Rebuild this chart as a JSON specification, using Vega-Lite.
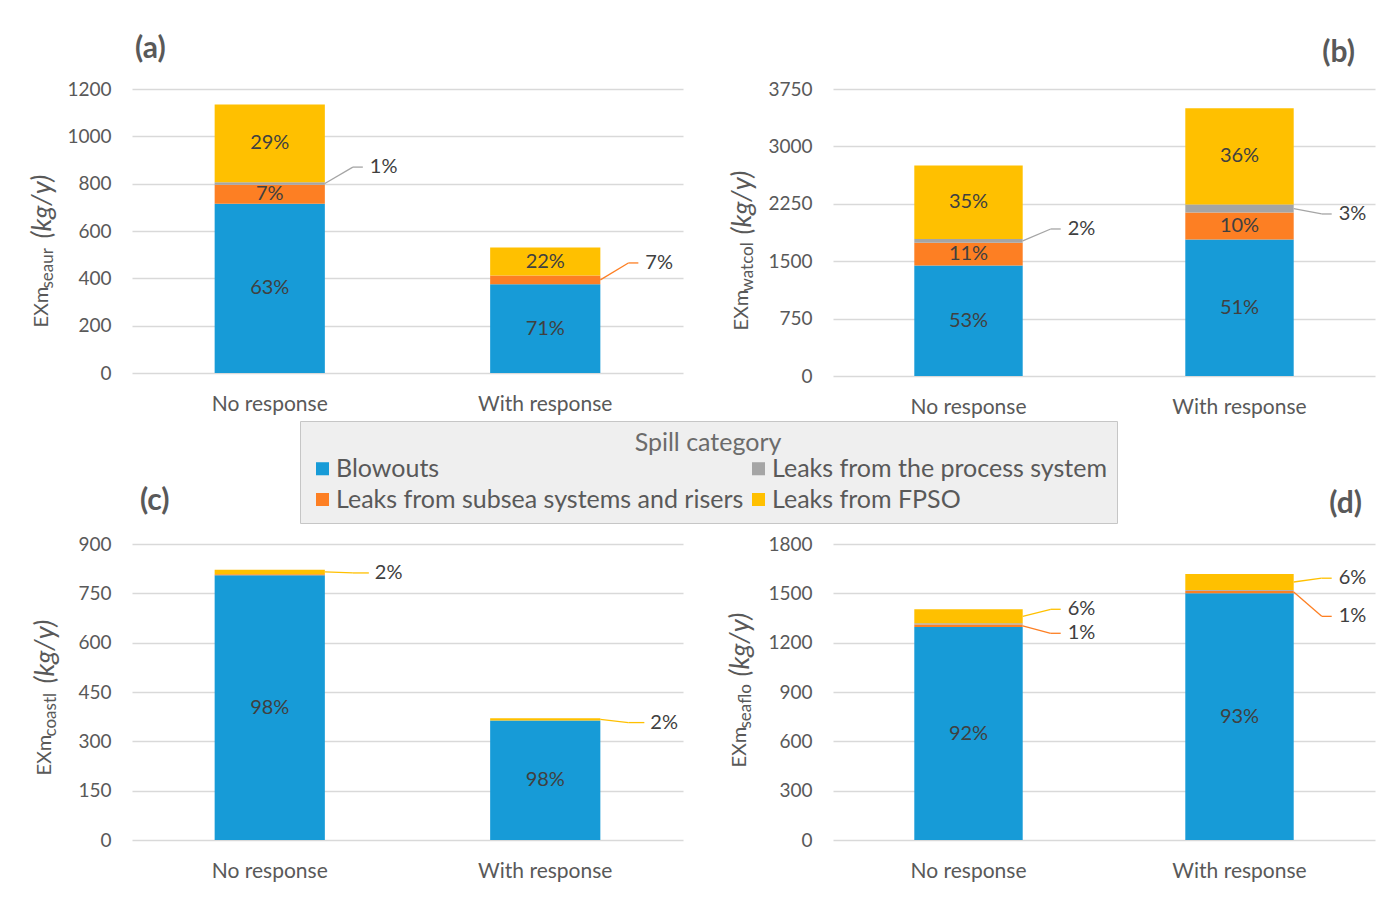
{
  "$schema": "https://vega.github.io/schema/vega-lite/v6.json",
  "background": "white",
  "padding": {"left": 28, "top": 34, "right": 4, "bottom": 4},
  "datasets": {
    "spills": [
      {"panel": "a", "scenario": "No response", "category": "Blowouts", "value": 715},
      {"panel": "a", "scenario": "No response", "category": "Leaks from subsea systems and risers", "value": 80},
      {"panel": "a", "scenario": "No response", "category": "Leaks from the process system", "value": 11, "calloutAt": 870},
      {"panel": "a", "scenario": "No response", "category": "Leaks from FPSO", "value": 329},
      {"panel": "a", "scenario": "With response", "category": "Blowouts", "value": 375},
      {"panel": "a", "scenario": "With response", "category": "Leaks from subsea systems and risers", "value": 37, "calloutAt": 465},
      {"panel": "a", "scenario": "With response", "category": "Leaks from FPSO", "value": 118},
      {"panel": "b", "scenario": "No response", "category": "Blowouts", "value": 1445},
      {"panel": "b", "scenario": "No response", "category": "Leaks from subsea systems and risers", "value": 295},
      {"panel": "b", "scenario": "No response", "category": "Leaks from the process system", "value": 50, "calloutAt": 1921},
      {"panel": "b", "scenario": "No response", "category": "Leaks from FPSO", "value": 960},
      {"panel": "b", "scenario": "With response", "category": "Blowouts", "value": 1785},
      {"panel": "b", "scenario": "With response", "category": "Leaks from subsea systems and risers", "value": 350},
      {"panel": "b", "scenario": "With response", "category": "Leaks from the process system", "value": 105, "calloutAt": 2117},
      {"panel": "b", "scenario": "With response", "category": "Leaks from FPSO", "value": 1260},
      {"panel": "c", "scenario": "No response", "category": "Blowouts", "value": 805},
      {"panel": "c", "scenario": "No response", "category": "Leaks from subsea systems and risers", "value": 3},
      {"panel": "c", "scenario": "No response", "category": "Leaks from FPSO", "value": 14, "calloutAt": 812},
      {"panel": "c", "scenario": "With response", "category": "Blowouts", "value": 363},
      {"panel": "c", "scenario": "With response", "category": "Leaks from FPSO", "value": 7, "calloutAt": 357},
      {"panel": "d", "scenario": "No response", "category": "Blowouts", "value": 1295},
      {"panel": "d", "scenario": "No response", "category": "Leaks from subsea systems and risers", "value": 15, "calloutAt": 1257},
      {"panel": "d", "scenario": "No response", "category": "Leaks from the process system", "value": 8},
      {"panel": "d", "scenario": "No response", "category": "Leaks from FPSO", "value": 85, "calloutAt": 1403},
      {"panel": "d", "scenario": "With response", "category": "Blowouts", "value": 1500},
      {"panel": "d", "scenario": "With response", "category": "Leaks from subsea systems and risers", "value": 16, "calloutAt": 1360},
      {"panel": "d", "scenario": "With response", "category": "Leaks from the process system", "value": 5},
      {"panel": "d", "scenario": "With response", "category": "Leaks from FPSO", "value": 96, "calloutAt": 1592}
    ]
  },
  "columns": 2,
  "bounds": "flush",
  "align": "each",
  "spacing": {"row": 168, "column": 150},
  "concat": [
    {
      "width": 551, "height": 284,
      "title": {"text": "(a)", "anchor": "start", "dx": 3, "offset": 16},
      "data": {"name": "spills"},
      "transform": [
        {"filter": "datum.panel === 'a'"},
        {"calculate": "indexof(['Blowouts', 'Leaks from subsea systems and risers', 'Leaks from the process system', 'Leaks from FPSO'], datum.category)", "as": "rank"},
        {"stack": "value", "groupby": ["scenario"], "sort": [{"field": "rank", "order": "ascending"}], "as": ["lo", "hi"]},
        {"calculate": "(datum.lo + datum.hi) / 2", "as": "mid"},
        {"joinaggregate": [{"op": "sum", "field": "value", "as": "total"}], "groupby": ["scenario"]},
        {"calculate": "format(datum.value / datum.total, '.0%')", "as": "pct"}
      ],
      "encoding": {
        "x": {"field": "scenario", "type": "nominal", "sort": ["No response", "With response"], "scale": {"paddingInner": 0.6, "paddingOuter": 0.3}, "axis": {"title": null, "labelAngle": 0, "labelPadding": 20}}
      },
      "layer": [
        {
          "mark": {"type": "bar"},
          "encoding": {
            "y": {"field": "hi", "type": "quantitative", "scale": {"domain": [0, 1200], "nice": false}, "axis": {"orient": "left", "values": [0, 200, 400, 600, 800, 1000, 1200], "format": "d", "title": "EXm", "titleX": -85, "titleY": 238}},
            "y2": {"field": "lo"},
            "color": {"field": "category", "type": "nominal", "scale": {"domain": ["Blowouts", "Leaks from subsea systems and risers", "Leaks from the process system", "Leaks from FPSO"], "range": ["#179bd7", "#fd7f23", "#a5a5a5", "#ffc000"]}, "legend": {"orient": "none", "legendX": 168, "legendY": 332, "columns": 2, "title": "Spill category"}}
          }
        },
        {
          "transform": [{"filter": "datum.value >= 72"}],
          "mark": {"type": "text", "fontSize": 20, "color": "#404040"},
          "encoding": {
            "y": {"field": "mid", "type": "quantitative", "scale": {"domain": [0, 1200], "nice": false}, "axis": {"orient": "left", "title": "seaur", "labels": false, "grid": false, "titleFontSize": 17, "titleX": -80, "titleY": 199}},
            "text": {"field": "pct"}
          }
        },
        {
          "transform": [{"filter": "isValid(datum.calloutAt)"}],
          "mark": {"type": "rule", "strokeWidth": 1.3, "x2Offset": 28},
          "encoding": {
            "x": {"field": "scenario", "type": "nominal", "bandPosition": 1},
            "x2": {"field": "scenario", "bandPosition": 1},
            "y": {"field": "mid", "type": "quantitative", "scale": {"domain": [0, 1200], "nice": false}, "axis": null},
            "y2": {"field": "calloutAt"},
            "stroke": {"field": "category", "type": "nominal", "scale": {"domain": ["Blowouts", "Leaks from subsea systems and risers", "Leaks from the process system", "Leaks from FPSO"], "range": ["#179bd7", "#fd7f23", "#a5a5a5", "#ffc000"]}, "legend": null}
          }
        },
        {
          "transform": [{"filter": "isValid(datum.calloutAt)"}],
          "mark": {"type": "rule", "strokeWidth": 1.3, "xOffset": 28, "x2Offset": 38},
          "encoding": {
            "x": {"field": "scenario", "type": "nominal", "bandPosition": 1},
            "x2": {"field": "scenario", "bandPosition": 1},
            "y": {"field": "calloutAt", "type": "quantitative", "scale": {"domain": [0, 1200], "nice": false}, "axis": null},
            "stroke": {"field": "category", "type": "nominal", "scale": {"domain": ["Blowouts", "Leaks from subsea systems and risers", "Leaks from the process system", "Leaks from FPSO"], "range": ["#179bd7", "#fd7f23", "#a5a5a5", "#ffc000"]}, "legend": null}
          }
        },
        {
          "transform": [{"filter": "isValid(datum.calloutAt)"}],
          "mark": {"type": "text", "fontSize": 20, "color": "#404040", "align": "left", "dx": 45},
          "encoding": {
            "x": {"field": "scenario", "type": "nominal", "bandPosition": 1},
            "y": {"field": "calloutAt", "type": "quantitative", "scale": {"domain": [0, 1200], "nice": false}, "axis": {"orient": "left", "title": "(kg/y)", "titleFontStyle": "italic", "titleFontSize": 27, "labels": false, "grid": false, "titleX": -82, "titleY": 149}},
            "text": {"field": "pct"}
          }
        }
      ],
      "resolve": {"axis": {"y": "independent"}}
    },
    {
      "width": 542, "height": 287,
      "title": {"text": "(b)", "anchor": "end", "dx": -20, "offset": 12},
      "data": {"name": "spills"},
      "transform": [
        {"filter": "datum.panel === 'b'"},
        {"calculate": "indexof(['Blowouts', 'Leaks from subsea systems and risers', 'Leaks from the process system', 'Leaks from FPSO'], datum.category)", "as": "rank"},
        {"stack": "value", "groupby": ["scenario"], "sort": [{"field": "rank", "order": "ascending"}], "as": ["lo", "hi"]},
        {"calculate": "(datum.lo + datum.hi) / 2", "as": "mid"},
        {"joinaggregate": [{"op": "sum", "field": "value", "as": "total"}], "groupby": ["scenario"]},
        {"calculate": "format(datum.value / datum.total, '.0%')", "as": "pct"}
      ],
      "encoding": {
        "x": {"field": "scenario", "type": "nominal", "sort": ["No response", "With response"], "scale": {"paddingInner": 0.6, "paddingOuter": 0.3}, "axis": {"title": null, "labelAngle": 0, "labelPadding": 20}}
      },
      "layer": [
        {
          "mark": {"type": "bar"},
          "encoding": {
            "y": {"field": "hi", "type": "quantitative", "scale": {"domain": [0, 3750], "nice": false}, "axis": {"orient": "left", "values": [0, 750, 1500, 2250, 3000, 3750], "format": "d", "title": "EXm", "titleX": -86, "titleY": 241}},
            "y2": {"field": "lo"},
            "color": {"field": "category", "type": "nominal", "scale": {"domain": ["Blowouts", "Leaks from subsea systems and risers", "Leaks from the process system", "Leaks from FPSO"], "range": ["#179bd7", "#fd7f23", "#a5a5a5", "#ffc000"]}, "legend": {"orient": "none", "legendX": 168, "legendY": 332, "columns": 2, "title": "Spill category"}}
          }
        },
        {
          "transform": [{"filter": "datum.value >= 225"}],
          "mark": {"type": "text", "fontSize": 20, "color": "#404040"},
          "encoding": {
            "y": {"field": "mid", "type": "quantitative", "scale": {"domain": [0, 3750], "nice": false}, "axis": {"orient": "left", "title": "watcol", "labels": false, "grid": false, "titleFontSize": 17, "titleX": -81, "titleY": 202}},
            "text": {"field": "pct"}
          }
        },
        {
          "transform": [{"filter": "isValid(datum.calloutAt)"}],
          "mark": {"type": "rule", "strokeWidth": 1.3, "x2Offset": 28},
          "encoding": {
            "x": {"field": "scenario", "type": "nominal", "bandPosition": 1},
            "x2": {"field": "scenario", "bandPosition": 1},
            "y": {"field": "mid", "type": "quantitative", "scale": {"domain": [0, 3750], "nice": false}, "axis": null},
            "y2": {"field": "calloutAt"},
            "stroke": {"field": "category", "type": "nominal", "scale": {"domain": ["Blowouts", "Leaks from subsea systems and risers", "Leaks from the process system", "Leaks from FPSO"], "range": ["#179bd7", "#fd7f23", "#a5a5a5", "#ffc000"]}, "legend": null}
          }
        },
        {
          "transform": [{"filter": "isValid(datum.calloutAt)"}],
          "mark": {"type": "rule", "strokeWidth": 1.3, "xOffset": 28, "x2Offset": 38},
          "encoding": {
            "x": {"field": "scenario", "type": "nominal", "bandPosition": 1},
            "x2": {"field": "scenario", "bandPosition": 1},
            "y": {"field": "calloutAt", "type": "quantitative", "scale": {"domain": [0, 3750], "nice": false}, "axis": null},
            "stroke": {"field": "category", "type": "nominal", "scale": {"domain": ["Blowouts", "Leaks from subsea systems and risers", "Leaks from the process system", "Leaks from FPSO"], "range": ["#179bd7", "#fd7f23", "#a5a5a5", "#ffc000"]}, "legend": null}
          }
        },
        {
          "transform": [{"filter": "isValid(datum.calloutAt)"}],
          "mark": {"type": "text", "fontSize": 20, "color": "#404040", "align": "left", "dx": 45},
          "encoding": {
            "x": {"field": "scenario", "type": "nominal", "bandPosition": 1},
            "y": {"field": "calloutAt", "type": "quantitative", "scale": {"domain": [0, 3750], "nice": false}, "axis": {"orient": "left", "title": "(kg/y)", "titleFontStyle": "italic", "titleFontSize": 27, "labels": false, "grid": false, "titleX": -83, "titleY": 145}},
            "text": {"field": "pct"}
          }
        }
      ],
      "resolve": {"axis": {"y": "independent"}}
    },
    {
      "width": 551, "height": 296,
      "title": {"text": "(c)", "anchor": "start", "dx": 8, "offset": 19},
      "data": {"name": "spills"},
      "transform": [
        {"filter": "datum.panel === 'c'"},
        {"calculate": "indexof(['Blowouts', 'Leaks from subsea systems and risers', 'Leaks from the process system', 'Leaks from FPSO'], datum.category)", "as": "rank"},
        {"stack": "value", "groupby": ["scenario"], "sort": [{"field": "rank", "order": "ascending"}], "as": ["lo", "hi"]},
        {"calculate": "(datum.lo + datum.hi) / 2", "as": "mid"},
        {"joinaggregate": [{"op": "sum", "field": "value", "as": "total"}], "groupby": ["scenario"]},
        {"calculate": "format(datum.value / datum.total, '.0%')", "as": "pct"}
      ],
      "encoding": {
        "x": {"field": "scenario", "type": "nominal", "sort": ["No response", "With response"], "scale": {"paddingInner": 0.6, "paddingOuter": 0.3}, "axis": {"title": null, "labelAngle": 0, "labelPadding": 20}}
      },
      "layer": [
        {
          "mark": {"type": "bar"},
          "encoding": {
            "y": {"field": "hi", "type": "quantitative", "scale": {"domain": [0, 900], "nice": false}, "axis": {"orient": "left", "values": [0, 150, 300, 450, 600, 750, 900], "format": "d", "title": "EXm", "titleX": -82, "titleY": 231}},
            "y2": {"field": "lo"},
            "color": {"field": "category", "type": "nominal", "scale": {"domain": ["Blowouts", "Leaks from subsea systems and risers", "Leaks from the process system", "Leaks from FPSO"], "range": ["#179bd7", "#fd7f23", "#a5a5a5", "#ffc000"]}, "legend": {"orient": "none", "legendX": 168, "legendY": 332, "columns": 2, "title": "Spill category"}}
          }
        },
        {
          "transform": [{"filter": "datum.value >= 54"}],
          "mark": {"type": "text", "fontSize": 20, "color": "#404040"},
          "encoding": {
            "y": {"field": "mid", "type": "quantitative", "scale": {"domain": [0, 900], "nice": false}, "axis": {"orient": "left", "title": "coastl", "labels": false, "grid": false, "titleFontSize": 17, "titleX": -77, "titleY": 192}},
            "text": {"field": "pct"}
          }
        },
        {
          "transform": [{"filter": "isValid(datum.calloutAt)"}],
          "mark": {"type": "rule", "strokeWidth": 1.3, "x2Offset": 28},
          "encoding": {
            "x": {"field": "scenario", "type": "nominal", "bandPosition": 1},
            "x2": {"field": "scenario", "bandPosition": 1},
            "y": {"field": "mid", "type": "quantitative", "scale": {"domain": [0, 900], "nice": false}, "axis": null},
            "y2": {"field": "calloutAt"},
            "stroke": {"field": "category", "type": "nominal", "scale": {"domain": ["Blowouts", "Leaks from subsea systems and risers", "Leaks from the process system", "Leaks from FPSO"], "range": ["#179bd7", "#fd7f23", "#a5a5a5", "#ffc000"]}, "legend": null}
          }
        },
        {
          "transform": [{"filter": "isValid(datum.calloutAt)"}],
          "mark": {"type": "rule", "strokeWidth": 1.3, "xOffset": 28, "x2Offset": 44},
          "encoding": {
            "x": {"field": "scenario", "type": "nominal", "bandPosition": 1},
            "x2": {"field": "scenario", "bandPosition": 1},
            "y": {"field": "calloutAt", "type": "quantitative", "scale": {"domain": [0, 900], "nice": false}, "axis": null},
            "stroke": {"field": "category", "type": "nominal", "scale": {"domain": ["Blowouts", "Leaks from subsea systems and risers", "Leaks from the process system", "Leaks from FPSO"], "range": ["#179bd7", "#fd7f23", "#a5a5a5", "#ffc000"]}, "legend": null}
          }
        },
        {
          "transform": [{"filter": "isValid(datum.calloutAt)"}],
          "mark": {"type": "text", "fontSize": 20, "color": "#404040", "align": "left", "dx": 50},
          "encoding": {
            "x": {"field": "scenario", "type": "nominal", "bandPosition": 1},
            "y": {"field": "calloutAt", "type": "quantitative", "scale": {"domain": [0, 900], "nice": false}, "axis": {"orient": "left", "title": "(kg/y)", "titleFontStyle": "italic", "titleFontSize": 27, "labels": false, "grid": false, "titleX": -79, "titleY": 139}},
            "text": {"field": "pct"}
          }
        }
      ],
      "resolve": {"axis": {"y": "independent"}}
    },
    {
      "width": 542, "height": 296,
      "title": {"text": "(d)", "anchor": "end", "dx": -13, "offset": 16},
      "data": {"name": "spills"},
      "transform": [
        {"filter": "datum.panel === 'd'"},
        {"calculate": "indexof(['Blowouts', 'Leaks from subsea systems and risers', 'Leaks from the process system', 'Leaks from FPSO'], datum.category)", "as": "rank"},
        {"stack": "value", "groupby": ["scenario"], "sort": [{"field": "rank", "order": "ascending"}], "as": ["lo", "hi"]},
        {"calculate": "(datum.lo + datum.hi) / 2", "as": "mid"},
        {"joinaggregate": [{"op": "sum", "field": "value", "as": "total"}], "groupby": ["scenario"]},
        {"calculate": "format(datum.value / datum.total, '.0%')", "as": "pct"}
      ],
      "encoding": {
        "x": {"field": "scenario", "type": "nominal", "sort": ["No response", "With response"], "scale": {"paddingInner": 0.6, "paddingOuter": 0.3}, "axis": {"title": null, "labelAngle": 0, "labelPadding": 20}}
      },
      "layer": [
        {
          "mark": {"type": "bar"},
          "encoding": {
            "y": {"field": "hi", "type": "quantitative", "scale": {"domain": [0, 1800], "nice": false}, "axis": {"orient": "left", "values": [0, 300, 600, 900, 1200, 1500, 1800], "format": "d", "title": "EXm", "titleX": -88, "titleY": 223}},
            "y2": {"field": "lo"},
            "color": {"field": "category", "type": "nominal", "scale": {"domain": ["Blowouts", "Leaks from subsea systems and risers", "Leaks from the process system", "Leaks from FPSO"], "range": ["#179bd7", "#fd7f23", "#a5a5a5", "#ffc000"]}, "legend": {"orient": "none", "legendX": 168, "legendY": 332, "columns": 2, "title": "Spill category"}}
          }
        },
        {
          "transform": [{"filter": "datum.value >= 108"}],
          "mark": {"type": "text", "fontSize": 20, "color": "#404040"},
          "encoding": {
            "y": {"field": "mid", "type": "quantitative", "scale": {"domain": [0, 1800], "nice": false}, "axis": {"orient": "left", "title": "seaflo", "labels": false, "grid": false, "titleFontSize": 17, "titleX": -83, "titleY": 184}},
            "text": {"field": "pct"}
          }
        },
        {
          "transform": [{"filter": "isValid(datum.calloutAt)"}],
          "mark": {"type": "rule", "strokeWidth": 1.3, "x2Offset": 28},
          "encoding": {
            "x": {"field": "scenario", "type": "nominal", "bandPosition": 1},
            "x2": {"field": "scenario", "bandPosition": 1},
            "y": {"field": "mid", "type": "quantitative", "scale": {"domain": [0, 1800], "nice": false}, "axis": null},
            "y2": {"field": "calloutAt"},
            "stroke": {"field": "category", "type": "nominal", "scale": {"domain": ["Blowouts", "Leaks from subsea systems and risers", "Leaks from the process system", "Leaks from FPSO"], "range": ["#179bd7", "#fd7f23", "#a5a5a5", "#ffc000"]}, "legend": null}
          }
        },
        {
          "transform": [{"filter": "isValid(datum.calloutAt)"}],
          "mark": {"type": "rule", "strokeWidth": 1.3, "xOffset": 28, "x2Offset": 38},
          "encoding": {
            "x": {"field": "scenario", "type": "nominal", "bandPosition": 1},
            "x2": {"field": "scenario", "bandPosition": 1},
            "y": {"field": "calloutAt", "type": "quantitative", "scale": {"domain": [0, 1800], "nice": false}, "axis": null},
            "stroke": {"field": "category", "type": "nominal", "scale": {"domain": ["Blowouts", "Leaks from subsea systems and risers", "Leaks from the process system", "Leaks from FPSO"], "range": ["#179bd7", "#fd7f23", "#a5a5a5", "#ffc000"]}, "legend": null}
          }
        },
        {
          "transform": [{"filter": "isValid(datum.calloutAt)"}],
          "mark": {"type": "text", "fontSize": 20, "color": "#404040", "align": "left", "dx": 45},
          "encoding": {
            "x": {"field": "scenario", "type": "nominal", "bandPosition": 1},
            "y": {"field": "calloutAt", "type": "quantitative", "scale": {"domain": [0, 1800], "nice": false}, "axis": {"orient": "left", "title": "(kg/y)", "titleFontStyle": "italic", "titleFontSize": 27, "labels": false, "grid": false, "titleX": -85, "titleY": 132}},
            "text": {"field": "pct"}
          }
        }
      ],
      "resolve": {"axis": {"y": "independent"}}
    }
  ],
  "config": {
    "font": "Lato",
    "view": {"stroke": null},
    "axis": {
      "labelFont": "Lato", "labelFontSize": 19, "labelColor": "#595959",
      "titleFont": "Lato", "titleFontSize": 20, "titleFontWeight": "normal", "titleColor": "#595959",
      "gridColor": "#d9d9d9", "gridWidth": 1.3, "domain": false, "ticks": false
    },
    "axisX": {"labelFontSize": 21},
    "axisY": {"titleAngle": -90, "titleAlign": "left", "titleBaseline": "alphabetic", "labelPadding": 21},
    "title": {"font": "Lato", "fontSize": 30, "fontWeight": "bold", "color": "#595959", "frame": "group", "baseline": "alphabetic"},
    "text": {"font": "Lato"},
    "legend": {
      "titleFont": "Lato", "titleFontSize": 25, "titleFontWeight": "normal", "titleColor": "#6b6b6b", "titleAnchor": "middle", "titlePadding": 0,
      "labelFont": "Lato", "labelFontSize": 25, "labelColor": "#595959", "labelLimit": 0, "labelOffset": 1,
      "symbolType": "square", "symbolSize": 170, "symbolStrokeWidth": 0,
      "fillColor": "#efefef", "strokeColor": "#c6c6c6", "padding": 10, "rowPadding": 5, "columnPadding": 2
    }
  }
}
